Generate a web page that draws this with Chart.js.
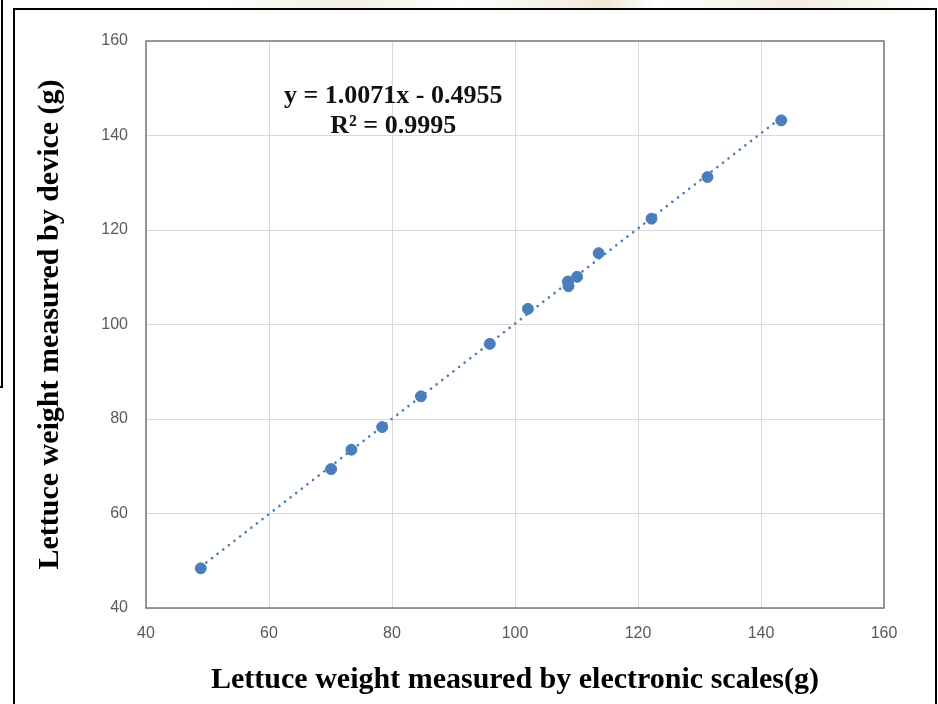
<!DOCTYPE html>
<html>
<head>
<meta charset="utf-8">
<script src="https://cdn.jsdelivr.net/npm/chart.js@4.4.1/dist/chart.umd.min.js"></script>
<style>
  html, body { margin: 0; padding: 0; background: #fff; }
  body { width: 938px; height: 704px; position: relative; overflow: hidden; }
  #ghost { position: absolute; left: 200px; top: 0; width: 738px; height: 8px;
    background: linear-gradient(90deg, #fff 0%, #f3efe2 20%, #fff 35%, #efe9d6 55%, #fff 62%, #f2eddf 80%, #fff 100%); }
  #sidebox { position: absolute; left: -10px; top: -2px; width: 11px; height: 388px;
    border-right: 2px solid #000; border-bottom: 2px solid #000; }
  #frame { position: absolute; left: 13px; top: 8px; width: 920px; height: 710px;
    border: 2px solid #000; }
  #wrap { position: absolute; left: 0; top: 0; width: 938px; height: 704px; }
</style>
</head>
<body>
<div id="ghost"></div>
<div id="sidebox"></div>
<div id="frame"></div>
<div id="wrap"><canvas id="myChart"></canvas></div>
<script>
var scaleWeight = [48.9, 70.1, 73.4, 78.4, 84.7, 95.9, 102.1, 108.6, 108.7, 110.1, 113.6, 122.2, 131.3, 143.3];
var deviceWeight = [48.4, 69.4, 73.5, 78.3, 84.8, 95.9, 103.3, 109.1, 108.1, 110.1, 115.1, 122.4, 131.2, 143.2];

// linear trendline end points
var trendX = [48.9, 143.3];
var trendY = [48.7, 143.8];

var axisTicks = [40, 60, 80, 100, 120, 140, 160];
var equationText = ["y = 1.0071x - 0.4955", "R² = 0.9995"];

var xTitle = "Lettuce weight measured by electronic scales(g)";
var yTitle = "Lettuce weight measured by device (g)";

var points = scaleWeight.map(function (x, i) {
	return { x: x, y: deviceWeight[i] };
});
var trend = trendX.map(function (x, i) {
	return { x: x, y: trendY[i] };
});

const plotBorder = {
	id: "plotBorder",
	afterDraw(chart) {
		const a = chart.chartArea;
		const ctx = chart.ctx;
		ctx.save();
		ctx.strokeStyle = "#7a7a7a";
		ctx.lineWidth = 1.5;
		ctx.strokeRect(a.left, a.top, a.right - a.left, a.bottom - a.top);
		ctx.restore();
	},
};

const equationLabel = {
	id: "equationLabel",
	afterDatasetsDraw(chart, args, opts) {
		const ctx = chart.ctx;
		const xs = chart.scales.x;
		const ys = chart.scales.y;
		ctx.save();
		ctx.fillStyle = "#111";
		ctx.font = "bold 26px 'Liberation Serif', serif";
		ctx.textAlign = "center";
		ctx.textBaseline = "middle";
		equationText.forEach(function (t, i) {
			ctx.fillText(t, xs.getPixelForValue(opts.x), ys.getPixelForValue(opts.y[i]));
		});
		ctx.restore();
	},
};

const data = {
	datasets: [
		{
			label: "Trendline",
			type: "line",
			data: trend,
			borderColor: "#4a7ebb",
			borderWidth: 2.6,
			borderDash: [0.1, 7],
			borderCapStyle: "round",
			pointRadius: 0,
			fill: false,
			order: 2,
		},
		{
			label: "Weight",
			data: points,
			backgroundColor: "#4a7ebb",
			borderColor: "#4a7ebb",
			pointRadius: 5.5,
			pointHoverRadius: 5.5,
			order: 1,
		},
	],
};

const config = {
	type: "scatter",
	data: data,
	plugins: [plotBorder, equationLabel],
	options: {
		responsive: false,
		animation: false,
		events: [],
		layout: { padding: { left: 14, top: 41, right: 54, bottom: 0 } },
		plugins: {
			legend: { display: false },
			tooltip: { enabled: false },
			equationLabel: { x: 80.2, y: [148.3, 141.9] },
		},
		scales: {
			x: {
				type: "linear",
				min: 40,
				max: 160,
				afterBuildTicks: function (s) {
					s.ticks = axisTicks.map(function (v) { return { value: v }; });
				},
				afterFit: function (s) { s.height = 96; },
				grid: { color: "#d9d9d9", lineWidth: 1, drawTicks: false },
				border: { display: false },
				ticks: {
					color: "#595959",
					padding: 16,
					font: { family: "'Liberation Sans', Arial, sans-serif", size: 16 },
				},
				title: {
					display: true,
					text: xTitle,
					color: "#000",
					padding: { top: 0, bottom: 6 },
					font: { family: "'Liberation Serif', 'Times New Roman', serif", size: 30, weight: "bold" },
				},
			},
			y: {
				type: "linear",
				min: 40,
				max: 160,
				afterBuildTicks: function (s) {
					s.ticks = axisTicks.map(function (v) { return { value: v }; });
				},
				afterFit: function (s) { s.width = 132; },
				grid: { color: "#d9d9d9", lineWidth: 1, drawTicks: false },
				border: { display: false },
				ticks: {
					color: "#595959",
					padding: 18,
					font: { family: "'Liberation Sans', Arial, sans-serif", size: 16 },
				},
				title: {
					display: true,
					text: yTitle,
					color: "#000",
					padding: { top: 18, bottom: 0 },
					font: { family: "'Liberation Serif', 'Times New Roman', serif", size: 30, weight: "bold" },
				},
			},
		},
	},
};

const canvas = document.getElementById("myChart");
canvas.width = 938;
canvas.height = 704;
const myChart = new Chart(canvas, config);
</script>
</body>
</html>
